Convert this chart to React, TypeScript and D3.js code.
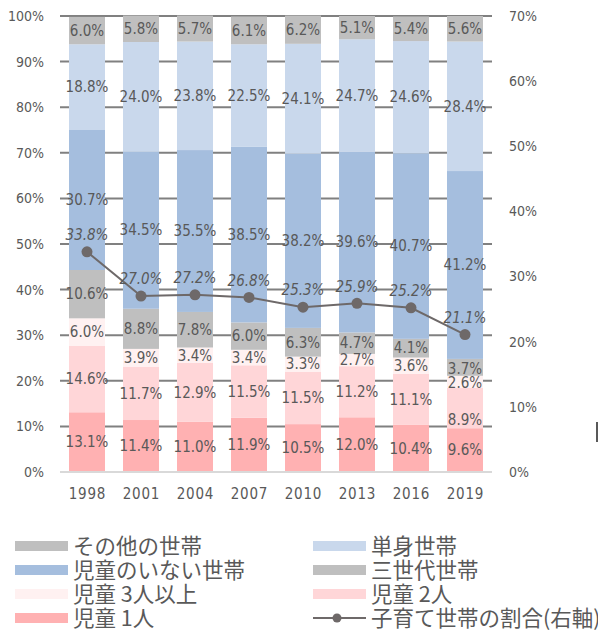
import React from 'react';
import * as d3 from 'd3';

// survey years
const years = ['1998', '2001', '2004', '2007', '2010', '2013', '2016', '2019'];

// stacked shares (%), bottom to top
const child1 = [13.1, 11.4, 11.0, 11.9, 10.5, 12.0, 10.4, 9.6];
const child2 = [14.6, 11.7, 12.9, 11.5, 11.5, 11.2, 11.1, 8.9];
const child3 = [6.0, 3.9, 3.4, 3.4, 3.3, 2.7, 3.6, 2.6];
const threeGen = [10.6, 8.8, 7.8, 6.0, 6.3, 4.7, 4.1, 3.7];
const noChild = [30.7, 34.5, 35.5, 38.5, 38.2, 39.6, 40.7, 41.2];
const single = [18.8, 24.0, 23.8, 22.5, 24.1, 24.7, 24.6, 28.4];
const other = [6.0, 5.8, 5.7, 6.1, 6.2, 5.1, 5.4, 5.6];

// share of child-rearing households (right axis)
const childRate = [33.8, 27.0, 27.2, 26.8, 25.3, 25.9, 25.2, 21.1];

const leftTicks = [0, 10, 20, 30, 40, 50, 60, 70, 80, 90, 100];
const rightTicks = [0, 10, 20, 30, 40, 50, 60, 70];

const series = [
  { name: '児童 1人', values: child1, color: '#ffb1b2' },
  { name: '児童 2人', values: child2, color: '#ffd6d8' },
  { name: '児童 3人以上', values: child3, color: '#fff1f1' },
  { name: '三世代世帯', values: threeGen, color: '#bfbfbf' },
  { name: '児童のいない世帯', values: noChild, color: '#a5bede' },
  { name: '単身世帯', values: single, color: '#c9d8ec' },
  { name: 'その他の世帯', values: other, color: '#bfbfbf' },
];

const lineName = '子育て世帯の割合(右軸)';

// labels that were moved by hand in the original (year index - series index)
const nudge: Record<string, number> = { '7-1': 12, '7-2': 1, '7-3': 1 };

const textColor = '#595959';
const lineColor = '#6e6969';
const font = '"DejaVu Sans Condensed", "Liberation Sans Narrow", sans-serif';
const jpFont = '"Noto Sans CJK JP", sans-serif';

export default function App() {
  const W = 598;
  const H = 632;
  const left = 60, right = 492, top = 16, bottom = 472;

  const x = d3.scaleBand<string>().domain(years).range([left, right]).paddingInner(1 / 3).paddingOuter(1 / 6);
  const y = d3.scaleLinear().domain([0, 100]).range([bottom, top]);
  const y2 = d3.scaleLinear().domain([0, 70]).range([bottom, top]);

  const rows = years.map((yr, i) => {
    const r: any = { year: yr };
    series.forEach((s, k) => (r[k] = s.values[i]));
    return r;
  });
  const stack = d3.stack<any>().keys(series.map((_, k) => String(k)));
  const stacked = stack(rows);

  const cx = (i: number) => x(years[i])! + x.bandwidth() / 2;
  const line = d3
    .line<number>()
    .x((_, i) => cx(i))
    .y((d) => y2(d));

  const legendLeft = [6, 4, 2, 0];
  const legendRight = [5, 3, 1];
  const rowY = [546, 570, 594, 618];

  return (
    <svg width={W} height={H} style={{ position: 'absolute', left: 0, top: 0, background: '#fff' }}>
      {leftTicks.map((t) => (
        <g key={'l' + t}>
          {t > 0 && <line x1={left} x2={right} y1={y(t)} y2={y(t)} stroke="#808080" strokeWidth={2} />}
          <text x={44} y={y(t)} dy="0.35em" textAnchor="end" fontFamily={font} fontSize={14} fill={textColor}>
            {t}%
          </text>
        </g>
      ))}
      {rightTicks.map((t) => (
        <text key={'r' + t} x={509} y={y2(t)} dy="0.35em" fontFamily={font} fontSize={14} fill={textColor}>
          {t}%
        </text>
      ))}

      {stacked.map((layer, k) => (
        <g key={'s' + k} fill={series[k].color}>
          {layer.map((d, i) => (
            <rect key={i} x={x(years[i])} y={y(d[1])} width={x.bandwidth()} height={y(d[0]) - y(d[1])} />
          ))}
        </g>
      ))}
      <line x1={left} x2={right} y1={bottom} y2={bottom} stroke="#d9d9d9" strokeWidth={2} />

      {stacked.map((layer, k) =>
        layer.map((d, i) => (
          <text
            key={'t' + k + '-' + i}
            x={cx(i)}
            y={y((d[0] + d[1]) / 2) + (nudge[i + '-' + k] || 0)}
            dy="0.35em"
            textAnchor="middle"
            fontFamily={font}
            fontSize={15}
            fill={textColor}
          >
            {series[k].values[i].toFixed(1)}%
          </text>
        ))
      )}

      <path d={line(childRate)!} fill="none" stroke={lineColor} strokeWidth={2} />
      {childRate.map((v, i) => (
        <g key={'p' + i}>
          <circle cx={cx(i)} cy={y2(v)} r={5.5} fill={lineColor} />
          <text
            x={cx(i)}
            y={y2(v) - 17}
            dy="0.35em"
            textAnchor="middle"
            fontFamily={font}
            fontSize={15}
            fontStyle="italic"
            fill={textColor}
          >
            {v.toFixed(1)}%
          </text>
        </g>
      ))}

      {years.map((yr, i) => (
        <text
          key={'y' + yr}
          x={cx(i) + 0.4}
          y={494}
          dy="0.35em"
          textAnchor="middle"
          fontFamily={font}
          fontSize={15}
          letterSpacing={0.8}
          fill={textColor}
        >
          {yr}
        </text>
      ))}

      <line x1={597} x2={597} y1={422} y2={442} stroke="#595959" strokeWidth={2} />

      {legendLeft.map((k, r) => (
        <g key={'ll' + k}>
          <rect x={15} y={rowY[r] - 5} width={53} height={10} fill={series[k].color} />
          <text x={73} y={rowY[r]} dy="0.36em" fontFamily={jpFont} fontSize={21.5} fill={textColor}>
            {series[k].name}
          </text>
        </g>
      ))}
      {legendRight.map((k, r) => (
        <g key={'lr' + k}>
          <rect x={313} y={rowY[r] - 5} width={53} height={10} fill={series[k].color} />
          <text x={371} y={rowY[r]} dy="0.36em" fontFamily={jpFont} fontSize={21.5} fill={textColor}>
            {series[k].name}
          </text>
        </g>
      ))}
      <line x1={313} x2={366} y1={rowY[3]} y2={rowY[3]} stroke={lineColor} strokeWidth={2} />
      <circle cx={337} cy={rowY[3]} r={4.5} fill={lineColor} />
      <text x={371} y={rowY[3]} dy="0.36em" fontFamily={jpFont} fontSize={21.5} fill={textColor}>
        {lineName}
      </text>
    </svg>
  );
}
